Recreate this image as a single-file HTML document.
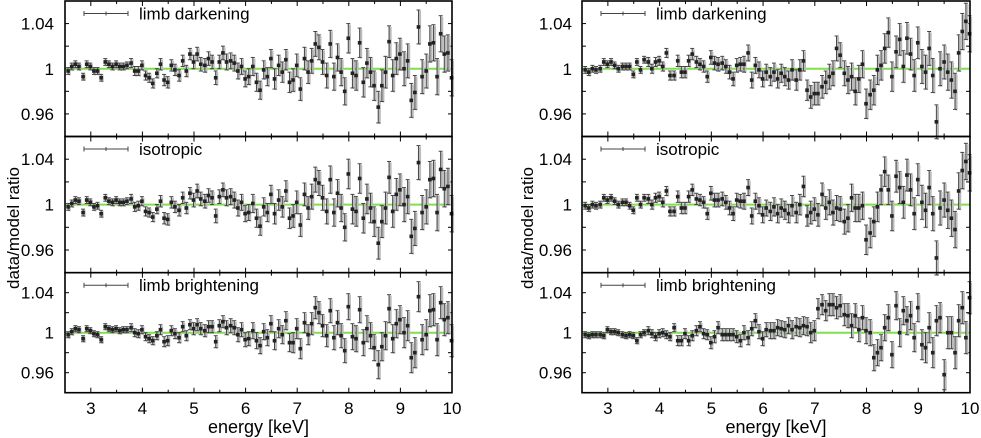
<!DOCTYPE html>
<html><head><meta charset="utf-8"><style>
html,body{margin:0;padding:0;background:#fff;}
svg{display:block;font-family:"Liberation Sans",Arial,sans-serif;}
</style></head><body>
<svg id="chart" width="981" height="438" viewBox="0 0 981 438" xmlns="http://www.w3.org/2000/svg"></svg>
<script>
const energies=[2.56,2.63,2.70,2.77,2.85,2.92,2.99,3.06,3.13,3.20,3.28,3.35,3.42,3.49,3.56,3.63,3.70,3.78,3.85,3.92,3.99,4.06,4.13,4.20,4.28,4.35,4.42,4.49,4.56,4.63,4.71,4.78,4.85,4.92,4.99,5.06,5.13,5.21,5.28,5.35,5.42,5.49,5.56,5.63,5.71,5.78,5.85,5.92,5.99,6.06,6.14,6.21,6.28,6.35,6.42,6.49,6.56,6.64,6.71,6.78,6.85,6.92,6.99,7.06,7.14,7.21,7.28,7.35,7.42,7.49,7.57,7.64,7.71,7.78,7.85,7.92,7.99,8.07,8.14,8.21,8.28,8.35,8.42,8.49,8.57,8.64,8.71,8.78,8.85,8.92,8.99,9.07,9.14,9.21,9.28,9.35,9.42,9.50,9.57,9.64,9.71,9.78,9.85,9.92,9.99];
const errors=[3,3,3,3,3,3,3,3,3,3,3,3,3,3,3,3,3,4,4,4,4,4,4,4,4,5,5,5,5,5,5,5,5,5,6,6,6,6,6,6,6,6,6,7,7,7,7,7,7,7,8,8,8,8,8,8,9,9,9,9,9,10,10,10,10,10,11,11,11,11,11,12,12,12,12,12,13,13,13,13,13,13,13,13,14,14,14,14,14,14,14,15,15,15,15,15,15,15,16,16,16,16,16,16,16];
// deviations from 1, in units of 0.001
const leftDarkening=[-2,2,4,2,-7,4,2,-2,-2,-8,6,4,2,4,2,2,3,5,-2,-2,3,-6,-8,-13,-4,4,-10,-12,3,-1,-6,7,-2,13,6,13,4,3,9,6,-8,6,14,6,7,5,-2,2,-9,-7,2,-12,-19,-1,-7,9,-9,3,-3,8,-12,-10,3,-18,9,-3,7,22,19,6,-6,22,-7,10,-3,-20,27,-4,-6,23,-12,5,-3,-15,-34,-15,-3,24,-6,9,13,0,7,-28,-21,37,-7,-2,22,23,-7,31,13,14,-8];
const leftIsotropic=[-2,1,4,3,-7,4,2,-2,-1,-8,6,3,2,4,2,2,3,5,-2,-1,3,-6,-7,-11,-4,3,-12,-13,2,-2,-5,6,-3,10,4,12,5,3,8,6,-10,7,13,6,7,4,-3,2,-8,-7,1,-12,-19,-2,-7,9,-8,4,-2,12,-12,-10,2,-18,9,-3,7,22,19,6,-6,22,-7,10,-3,-20,27,-4,-6,23,-12,5,-3,-15,-34,-15,-3,24,-6,9,13,0,7,-28,-21,37,-7,-2,22,23,-7,31,14,16,-8];
const leftBrightening=[-2,1,4,3,-6,4,2,-1,-2,-7,6,4,3,4,2,3,3,5,0,-1,3,-4,-6,-8,-3,3,-9,-8,2,-1,-5,6,-3,8,4,8,4,2,6,6,-9,7,11,5,7,5,-2,3,-7,-6,2,-8,-13,1,-5,9,-8,4,-2,12,-10,-10,4,-16,10,-2,9,25,20,7,-3,22,-5,10,-3,-18,26,-4,-6,23,-10,4,-3,-15,-32,-14,-3,24,-6,9,13,0,7,-25,-20,36,-7,-2,22,23,-7,30,13,15,-8];
const rightDarkening=[-1,-3,0,-1,0,6,4,6,3,0,2,2,2,-5,6,-1,8,6,0,6,7,2,14,-6,-6,7,-3,-3,7,13,6,4,2,-7,10,5,4,5,2,-3,-9,3,4,4,14,-10,3,-1,-9,-3,-7,-3,-9,-4,-7,-10,-1,-10,-1,7,-19,-25,-22,-22,-16,-12,-7,-4,18,12,-4,-10,-7,-20,-9,4,-31,-23,-19,-1,3,18,32,-7,15,26,2,27,13,-6,23,2,-3,18,-6,-47,0,6,-3,-10,-20,14,33,42,31];
const rightIsotropic=[-1,-3,0,-1,0,6,4,6,3,0,2,2,-1,-5,6,0,6,5,0,6,7,2,12,-6,-6,7,-3,-3,7,13,5,4,2,-8,10,4,4,5,2,-3,-8,4,3,3,15,-10,3,-1,-9,-3,-6,-2,-8,-3,-5,-8,-1,-7,0,16,-10,-7,-4,-9,9,-3,2,-7,-3,-4,-15,-12,6,-3,-3,-1,-31,-25,-15,-2,13,29,13,-10,25,15,2,26,13,-8,22,2,-5,15,-8,-47,-3,4,-5,-12,-22,12,30,38,28];
const rightBrightening=[-2,-3,-2,-2,-2,-3,3,1,1,0,-2,-3,-2,-3,-8,-2,0,2,-1,-4,-1,0,-2,-4,5,-8,-8,-1,-8,-3,2,6,-1,-2,-10,-4,5,-2,-2,-2,-2,-4,-8,0,-5,4,12,1,-6,3,2,2,5,4,3,7,3,6,5,7,6,0,2,24,28,22,28,28,25,27,18,17,7,17,3,15,2,0,-25,-20,-15,5,15,-22,27,0,22,12,17,-5,25,-12,-15,5,-20,12,15,-42,0,0,-20,12,25,-5,35];
const legendLabels=["limb darkening","isotropic","limb brightening"];
const xTicks=[3,4,5,6,7,8,9,10];
const yTickLabels=[["1.04",1.04],["1",1],["0.96",0.96]];

const NS="http://www.w3.org/2000/svg";
const svg=document.getElementById('chart');
function mk(tag,attrs,parent){const e=document.createElementNS(NS,tag);for(const k in attrs)e.setAttribute(k,attrs[k]);(parent||svg).appendChild(e);return e;}

const cols=[{x0:65,x1:452,lab:54,title:14},{x0:582,x1:970,lab:572,title:528}];
const rows=[{y0:1,y1:136.5},{y0:136.5,y1:272.7},{y0:272.7,y1:392.7}];
const series=[[leftDarkening,leftIsotropic,leftBrightening],[rightDarkening,rightIsotropic,rightBrightening]];
const names=["darkening","isotropic","brightening"];

cols.forEach((c,ci)=>{
  const xs=e=>c.x0+(e-2.5)/7.5*(c.x1-c.x0);
  rows.forEach((r,ri)=>{
    const ys=v=>r.y1-(v-0.94)/0.12*(r.y1-r.y0);
    const g=mk('g',{});
    
    
    for(let t=2.5;t<=10.001;t+=0.5){const x=xs(t);const L=(Math.abs(t-Math.round(t))<0.01)?5:3;
      mk('line',{x1:x,x2:x,y1:r.y1,y2:r.y1-L,stroke:'#000','stroke-width':1},g);
      mk('line',{x1:x,x2:x,y1:r.y0,y2:r.y0+L,stroke:'#000','stroke-width':1},g);}
    [0.96,0.98,1,1.02,1.04].forEach(v=>{const y=ys(v);
      mk('line',{x1:c.x0,x2:c.x0+4,y1:y,y2:y,stroke:'#000'},g);
      mk('line',{x1:c.x1,x2:c.x1-4,y1:y,y2:y,stroke:'#000'},g);});
    yTickLabels.forEach(([s,v])=>{const t=mk('text',{x:c.lab,y:ys(v)+6,'text-anchor':'end','font-size':17},g);t.textContent=s;
      
      });
    const ml=mk('line',{x1:c.x0,x2:c.x1,y1:ys(1),y2:ys(1),stroke:'#7ee04a','stroke-width':2},g);
    
    
    const vals=series[ci][ri];
    const n=Math.min(vals.length,energies.length,errors.length);
    for(let i=0;i<n;i++){
      const x=xs(energies[i]);const v=1+vals[i]/1000;const er=errors[i]/1000;
      const yt=ys(v+er),yb=ys(v-er),y=ys(v);
      if(x<c.x0||x>c.x1)continue;
      mk('line',{x1:x+1.5,x2:x+1.5,y1:yt+1,y2:yb+1,stroke:'#bbb','stroke-width':2.2},g);
      mk('line',{x1:x-2,x2:x+2,y1:yt,y2:yt,stroke:'#444','stroke-width':1},g);
      mk('line',{x1:x-2,x2:x+2,y1:yb,y2:yb,stroke:'#444','stroke-width':1},g);
      mk('line',{x1:x,x2:x,y1:yt,y2:yb,stroke:'#444','stroke-width':1},g);
      const p=mk('rect',{x:x-1.8,y:y-1.8,width:3.6,height:3.6,fill:'#222'},g);
      
      
    }
    mk('rect',{x:c.x0,y:r.y0,width:c.x1-c.x0,height:r.y1-r.y0,fill:'none',stroke:'#000','stroke-width':1.6},g);
    const lg=mk('g',{},g);
    
    
    const ly=r.y0+12.5,lx=c.x0+19;
    mk('line',{x1:lx,x2:lx+44,y1:ly,y2:ly,stroke:'#444'},lg);
    mk('line',{x1:lx,x2:lx,y1:ly-2.5,y2:ly+2.5,stroke:'#444'},lg);
    mk('line',{x1:lx+44,x2:lx+44,y1:ly-2.5,y2:ly+2.5,stroke:'#444'},lg);
    mk('line',{x1:lx+22,x2:lx+22,y1:ly-2,y2:ly+2,stroke:'#444'},lg);
    const lt=mk('text',{x:c.x0+74,y:ly+6,'font-size':17},lg);lt.textContent=legendLabels[ri];
  });
  const xsx=e=>c.x0+(e-2.5)/7.5*(c.x1-c.x0);
  xTicks.forEach(t=>{const tx=mk('text',{x:xsx(t),y:414,'text-anchor':'middle','font-size':17});tx.textContent=t;
    
    });
  const xt=mk('text',{x:(c.x0+c.x1)/2,y:433,'text-anchor':'middle','font-size':18});xt.textContent='energy [keV]';
  
  
  const yt=mk('text',{x:0,y:0,'text-anchor':'middle','font-size':17,transform:`translate(${c.title+5},228) rotate(-90)`});yt.textContent='data/model ratio';
  
  
});
</script>
</body></html>
